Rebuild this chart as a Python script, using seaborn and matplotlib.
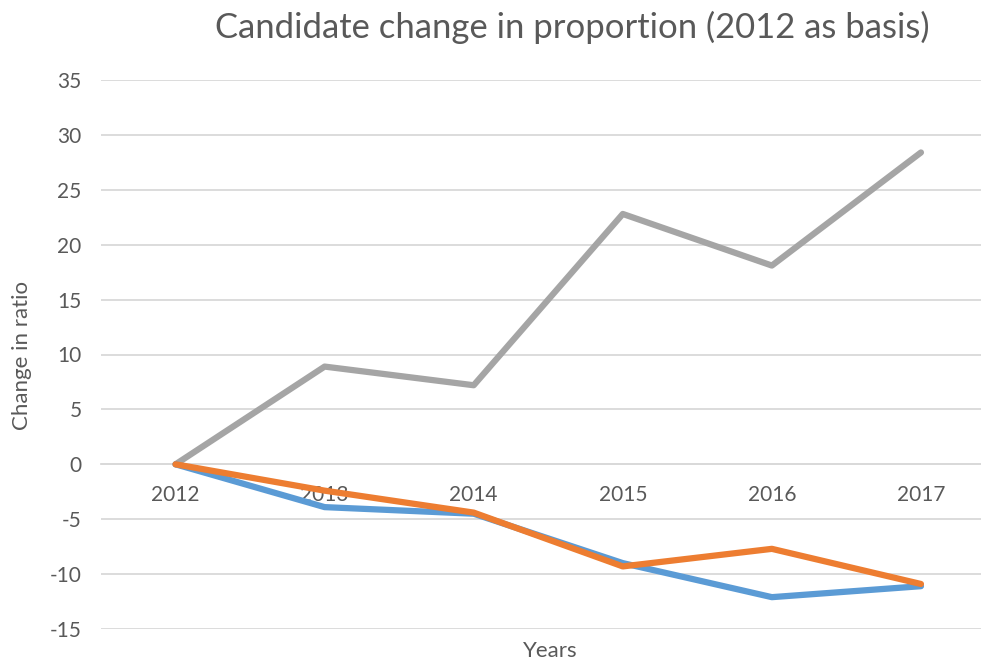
import matplotlib
matplotlib.use("Agg")
import matplotlib.pyplot as plt
import numpy as np
import pandas as pd
import seaborn as sns

# data
years = [2012, 2013, 2014, 2015, 2016, 2017]
series_names = ['Series 1', 'Series 2', 'Series 3']
series_1 = [0, -3.9, -4.5, -9.0, -12.1, -11.1]   # blue
series_2 = [0, -2.4, -4.4, -9.3, -7.7, -10.9]    # orange
series_3 = [0, 8.9, 7.2, 22.8, 18.1, 28.4]       # gray
y_ticks = [-15, -10, -5, 0, 5, 10, 15, 20, 25, 30, 35]

df = pd.DataFrame({
    'Years': years * 3,
    'Change in ratio': series_1 + series_2 + series_3,
    'series': np.repeat(series_names, len(years)),
})

sns.set_style('white')
plt.rcParams['font.family'] = ['Lato', 'DejaVu Sans']
plt.rcParams['axes.unicode_minus'] = False

text_col = '#595959'
grid_col = '#D9D9D9'
palette = {'Series 1': '#5B9BD5', 'Series 2': '#ED7D31', 'Series 3': '#A5A5A5'}

fig = plt.figure(figsize=(9.81, 6.61), dpi=100)
ax = fig.add_axes([101 / 981, 32 / 661, 894.5 / 981, 549 / 661])

sns.lineplot(data=df, x='Years', y='Change in ratio', hue='series',
             hue_order=['Series 3', 'Series 1', 'Series 2'],
             palette=palette, linewidth=4.5, legend=False, ax=ax,
             solid_capstyle='round', solid_joinstyle='round')

ax.set_xlim(2011.5, 2017.5)
ax.set_ylim(-15, 35)
ax.set_yticks(y_ticks)
ax.set_xticks(years)
ax.yaxis.grid(True, color=grid_col, linewidth=1.3)
ax.set_axisbelow(True)

# category axis crosses at zero, as in the original
for side in ['top', 'right', 'left']:
    ax.spines[side].set_visible(False)
ax.spines['bottom'].set_position(('data', 0))
ax.spines['bottom'].set_color(grid_col)
ax.spines['bottom'].set_linewidth(1.3)
ax.spines['bottom'].set_zorder(0)

ax.tick_params(axis='both', length=0, labelsize=15, labelcolor=text_col)
ax.tick_params(axis='x', pad=15)
ax.tick_params(axis='y', pad=14)

ax.set_xlabel('')
ax.set_ylabel('')
fig.text(550 / 981, 1 - 651 / 661, 'Years', ha='center', va='center',
         fontsize=16, color=text_col)
fig.text(22 / 981, 1 - 355 / 661, 'Change in ratio', ha='center', va='center',
         rotation=90, fontsize=16, color=text_col)
fig.text(572 / 981, 1 - 27 / 661, 'Candidate change in proportion (2012 as basis)',
         ha='center', va='center', fontsize=24.9, color=text_col)

fig.savefig('out.png', dpi=100)
